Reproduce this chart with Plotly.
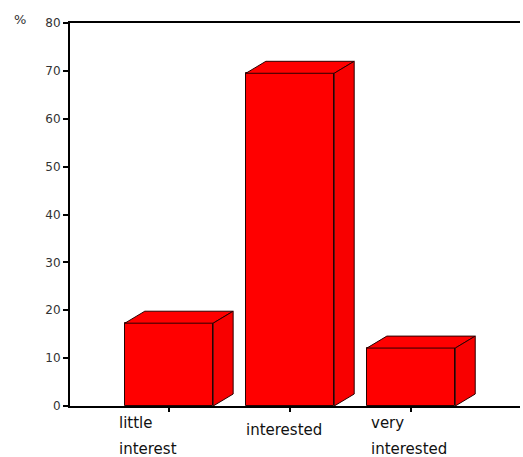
import plotly.graph_objects as go

categories = ["little\ninterest", "interested", "very\ninterested"]
values = [17.3, 69.5, 12.1]
y_ticks = [0, 10, 20, 30, 40, 50, 60, 70, 80]

RED = "#FF0000"
EDGE = "#2a0000"
W = 0.73      # front face width (x units)
DX = 0.165    # depth offset in x units
DY = 2.5      # depth offset in y units

xs = list(range(len(categories)))
fig = go.Figure()

# front faces
fig.add_trace(go.Bar(x=xs, y=values, width=W, marker=dict(color=RED, line=dict(color=EDGE, width=1)),
                     hoverinfo="skip", showlegend=False))

# top and side faces
for x, v in zip(xs, values):
    l, r = x - W / 2, x + W / 2
    fig.add_trace(go.Scatter(x=[l, l + DX, r + DX, r, l], y=[v, v + DY, v + DY, v, v],
                             fill="toself", fillcolor=RED, mode="lines",
                             line=dict(color=EDGE, width=1), hoverinfo="skip", showlegend=False))
    fig.add_trace(go.Scatter(x=[r, r + DX, r + DX, r, r], y=[0, DY, v + DY, v, 0],
                             fill="toself", fillcolor="#F80000", mode="lines",
                             line=dict(color=EDGE, width=1), hoverinfo="skip", showlegend=False))

# category labels, left aligned below each tick
shifts = [-52, -46, -42]
for x, lab, sh in zip(xs, categories, shifts):
    lines = lab.split("\n")
    offs = [-13] if len(lines) == 1 else [-6, -32]
    for t, o in zip(lines, offs):
        fig.add_annotation(x=x, xref="x", y=0, yref="y", text=t, showarrow=False,
                           xanchor="left", yanchor="top", xshift=sh, yshift=o,
                           font=dict(family="DejaVu Sans", size=15, color="#111"))

fig.add_annotation(x=0, xref="paper", y=1, yref="paper", text="%", showarrow=False,
                   xanchor="right", yanchor="middle", xshift=-42, yshift=4,
                   font=dict(family="DejaVu Sans", size=13, color="#333"))

fig.update_xaxes(range=[-0.818, 2.90], showline=True, linecolor="black", linewidth=2,
                 mirror=True, ticks="outside", ticklen=4, tickwidth=2, tickcolor="black",
                 tickvals=xs, showticklabels=False, showgrid=False, zeroline=False, fixedrange=True)
fig.update_yaxes(range=[0, 80], showline=True, linecolor="black", linewidth=2,
                 ticks="outside", ticklen=5, tickwidth=2, tickcolor="black",
                 tickvals=y_ticks, ticktext=[str(t) for t in y_ticks],
                 tickfont=dict(family="DejaVu Sans", size=12, color="#333"),
                 showgrid=False, zeroline=False, fixedrange=True)

fig.update_layout(width=523, height=457, margin=dict(l=70, r=3, t=23, b=51),
                  plot_bgcolor="white", paper_bgcolor="white", bargap=0)

fig.write_html("out.html")
